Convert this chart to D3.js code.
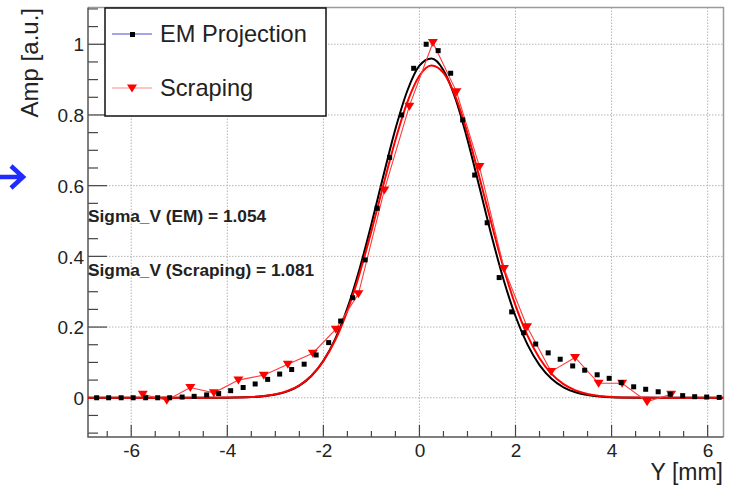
<!DOCTYPE html>
<html>
<head>
  <meta charset="UTF-8" />
  <title>Amp vs Y</title>
  <script src="https://d3js.org/d3.v7.min.js"></script>
  <style>
    body { margin: 0; background: white; font-family: "Liberation Sans", Arial, sans-serif; }
    svg text { fill: #222; }
  </style>
</head>
<body>
  <svg width="730" height="485"></svg>

  <script>
    // EM projection (black squares)
    const emX = [-6.72, -6.47, -6.21, -5.96, -5.70, -5.45, -5.20, -4.94, -4.69, -4.43, -4.18, -3.93, -3.67,
      -3.42, -3.16, -2.91, -2.66, -2.40, -2.15, -1.89, -1.64, -1.39, -1.13, -0.88, -0.62, -0.37, -0.12,
      0.14, 0.39, 0.65, 0.90, 1.15, 1.41, 1.66, 1.92, 2.17, 2.42, 2.68, 2.93, 3.19, 3.44, 3.70, 3.95,
      4.20, 4.46, 4.71, 4.97, 5.22, 5.48, 5.73, 5.98, 6.24];
    const emY = [0, 0, 0, 0, 0, 0, 0, 0.002, 0.004, 0.008, 0.012, 0.020, 0.029,
      0.039, 0.052, 0.067, 0.080, 0.095, 0.121, 0.156, 0.217, 0.283, 0.39, 0.536, 0.68, 0.80, 0.932,
      1.0, 0.982, 0.918, 0.786, 0.63, 0.495, 0.34, 0.243, 0.184, 0.152, 0.127, 0.109, 0.090, 0.078, 0.065, 0.055,
      0.043, 0.031, 0.024, 0.017, 0.010, 0.006, 0.003, 0.002, 0.001];

    // Scraping (red triangles)
    const scrX = [-5.76, -5.26, -4.77, -4.28, -3.77, -3.24, -2.74, -2.22, -1.74, -1.27, -0.73, -0.21,
      0.28, 0.77, 1.25, 1.76, 2.24, 2.74, 3.24, 3.73, 4.22, 4.74, 5.24];
    const scrY = [0.010, -0.007, 0.029, 0.014, 0.050, 0.064, 0.095, 0.126, 0.194, 0.294, 0.588, 0.825,
      1.005, 0.866, 0.654, 0.366, 0.201, 0.074, 0.114, 0.041, 0.041, -0.011, 0.010];

    // fitted curves
    const fitX = [-6.9, -5.5, -5, -4.5, -4, -3.5, -3.25, -3, -2.75, -2.5, -2.25, -2, -1.75, -1.5, -1.25, -1,
      -0.75, -0.5, -0.25, 0, 0.25, 0.5, 0.75, 1, 1.25, 1.5, 1.75, 2, 2.25, 2.5, 2.75, 3, 3.25, 3.5, 3.75,
      4, 4.5, 5, 5.5, 6.33];
    const fitEM = [0, 0, 0, 0, 0.0003, 0.0019, 0.0043, 0.009, 0.0181, 0.0344, 0.0616, 0.1045, 0.1673, 0.2534, 0.363, 0.4913,
      0.6286, 0.7602, 0.8692, 0.9394, 0.9596, 0.9267, 0.846, 0.7301, 0.5955, 0.4592, 0.3348, 0.2306, 0.1502, 0.0925, 0.0538, 0.0296, 0.0154, 0.0076, 0.0035,
      0.0015, 0.0003, 0, 0, 0];
    const fitScr = [0, 0, 0, 0.0001, 0.0004, 0.0022, 0.0047, 0.0097, 0.019, 0.0353, 0.0621, 0.1037, 0.164, 0.246, 0.3498, 0.4714,
      0.6023, 0.7293, 0.8373, 0.9111, 0.9398, 0.9189, 0.8517, 0.7483, 0.6232, 0.4921, 0.3682, 0.2612, 0.1756, 0.112, 0.0677, 0.0387, 0.021, 0.0108, 0.0053,
      0.0024, 0.0004, 0, 0, 0];

    const xTicks = [-6, -4, -2, 0, 2, 4, 6];
    const yTicks = [0, 0.2, 0.4, 0.6, 0.8, 1];
    const sigmaLabels = ["Sigma_V (EM) = 1.054", "Sigma_V (Scraping) = 1.081"];

    const pL = 88, pR = 723.5, pT = 7.5, pB = 437;
    const svg = d3.select("svg");

    const x = d3.scaleLinear().domain([-6.9, 6.33]).range([pL, pR]);
    const y = d3.scaleLinear().domain([-0.111, 1.104]).range([pB, pT]);

    // arrow on the left
    svg.append("path")
      .attr("d", "M0,177 L22,177 M11,166 L23,177 L11,188")
      .attr("fill", "none")
      .attr("stroke", "#1f2bff")
      .attr("stroke-width", 4.5);

    // grid
    const grid = svg.append("g").attr("stroke", "#b5b5b5").attr("stroke-dasharray", "1.5,1.5");
    grid.selectAll("line.v").data(xTicks).enter().append("line")
      .attr("x1", d => x(d)).attr("x2", d => x(d)).attr("y1", pT).attr("y2", pB);
    grid.selectAll("line.h").data(yTicks).enter().append("line")
      .attr("x1", pL).attr("x2", pR).attr("y1", d => y(d)).attr("y2", d => y(d));

    // axes: ticks drawn inside the frame like ROOT
    const xAxis = d3.axisBottom(x).tickValues(xTicks).tickSize(0).tickPadding(0).tickFormat(d => String(d));
    const gx = svg.append("g").attr("transform", `translate(0,${pB})`).call(xAxis);
    gx.select(".domain").remove();
    gx.selectAll("text").attr("font-size", 19).attr("font-family", "Liberation Sans, Arial")
      .attr("dy", null).attr("y", 20);

    const yAxis = d3.axisLeft(y).tickValues(yTicks).tickSize(0).tickPadding(4).tickFormat(d => d === 0 ? "0" : d === 1 ? "1" : d3.format(".1f")(d));
    const gy = svg.append("g").attr("transform", `translate(${pL},0)`).call(yAxis);
    gy.select(".domain").remove();
    gy.selectAll("text").attr("font-size", 19).attr("font-family", "Liberation Sans, Arial").attr("dy", "0.35em");

    const tickG = svg.append("g").attr("stroke", "#444").attr("stroke-width", 1.2);
    const xMinor = d3.range(-13, 13).map(k => k * 0.5).filter(v => v >= -6.9 && v <= 6.33);
    tickG.selectAll("line.xt").data(xMinor).enter().append("line")
      .attr("x1", d => x(d)).attr("x2", d => x(d))
      .attr("y1", pB).attr("y2", d => pB - (Number.isInteger(d / 2) ? 12 : 6));
    const yMinor = d3.range(-2, 23).map(k => +(k * 0.05).toFixed(2)).filter(v => v >= -0.111 && v <= 1.104);
    tickG.selectAll("line.yt").data(yMinor).enter().append("line")
      .attr("y1", d => y(d)).attr("y2", d => y(d))
      .attr("x1", pL).attr("x2", d => pL + (Math.abs(d * 5 - Math.round(d * 5)) < 1e-6 ? 19 : 10));

    // frame
    svg.append("path")
      .attr("d", `M${pL},${pT} L${pR},${pT} L${pR},${pB}`)
      .attr("fill", "none").attr("stroke", "#9a9a9a").attr("stroke-width", 1.5);
    svg.append("path")
      .attr("d", `M${pL},${pT} L${pL},${pB} L${pR},${pB}`)
      .attr("fill", "none").attr("stroke", "#555").attr("stroke-width", 1.5);

    // axis titles
    svg.append("text")
      .attr("transform", "translate(38,8) rotate(-90)")
      .attr("text-anchor", "end")
      .attr("font-size", 24)
      .text("Amp [a.u.]");
    svg.append("text")
      .attr("x", 723).attr("y", 480)
      .attr("text-anchor", "end")
      .attr("font-size", 23)
      .text("Y [mm]");

    // plot contents
    svg.append("clipPath").attr("id", "clip").append("rect")
      .attr("x", pL).attr("y", pT).attr("width", pR - pL).attr("height", pB - pT);
    const plot = svg.append("g").attr("clip-path", "url(#clip)");

    const fitLine = d3.line().x(d => x(d[0])).y(d => y(d[1])).curve(d3.curveMonotoneX);
    plot.append("path").datum(d3.zip(fitX, fitEM))
      .attr("d", fitLine).attr("fill", "none").attr("stroke", "#000").attr("stroke-width", 2);
    plot.append("path").datum(d3.zip(fitX, fitScr))
      .attr("d", fitLine).attr("fill", "none").attr("stroke", "#ff0000").attr("stroke-width", 2);

    const scrData = d3.zip(scrX, scrY);
    plot.append("path").datum(scrData)
      .attr("d", d3.line().x(d => x(d[0])).y(d => y(d[1])))
      .attr("fill", "none").attr("stroke", "#ff3a3a").attr("stroke-width", 1.1);

    const tri = "M-5,-3.5 L5,-3.5 L0,4.5 Z";
    plot.selectAll("path.tri").data(scrData).enter().append("path")
      .attr("class", "tri")
      .attr("d", tri)
      .attr("transform", d => `translate(${x(d[0])},${y(d[1])})`)
      .attr("fill", "#ff0000");

    plot.selectAll("rect.sq").data(d3.zip(emX, emY)).enter().append("rect")
      .attr("class", "sq")
      .attr("x", d => x(d[0]) - 2.5).attr("y", d => y(d[1]) - 2.5)
      .attr("width", 5).attr("height", 5)
      .attr("fill", "#000");

    // fit results
    svg.selectAll("text.sig").data(sigmaLabels).enter().append("text")
      .attr("class", "sig")
      .attr("x", 88).attr("y", (d, i) => i === 0 ? 222 : 276)
      .attr("font-size", 17.3).attr("font-weight", "bold")
      .text(d => d);

    // legend
    const lg = svg.append("g");
    lg.append("rect").attr("x", 105).attr("y", 8).attr("width", 221).attr("height", 108)
      .attr("fill", "white").attr("stroke", "#111").attr("stroke-width", 1.5);
    lg.append("line").attr("x1", 112).attr("x2", 152).attr("y1", 34).attr("y2", 34)
      .attr("stroke", "#4a4ad0").attr("stroke-width", 1);
    lg.append("rect").attr("x", 130).attr("y", 32).attr("width", 5).attr("height", 5).attr("fill", "#000");
    lg.append("text").attr("x", 160).attr("y", 42).attr("font-size", 23.6).text("EM Projection");
    lg.append("line").attr("x1", 112).attr("x2", 152).attr("y1", 88).attr("y2", 88)
      .attr("stroke", "#ff8a8a").attr("stroke-width", 1);
    lg.append("path").attr("d", tri).attr("transform", "translate(132,88)").attr("fill", "#ff0000");
    lg.append("text").attr("x", 160).attr("y", 96).attr("font-size", 23.6).text("Scraping");
  </script>
</body>
</html>
